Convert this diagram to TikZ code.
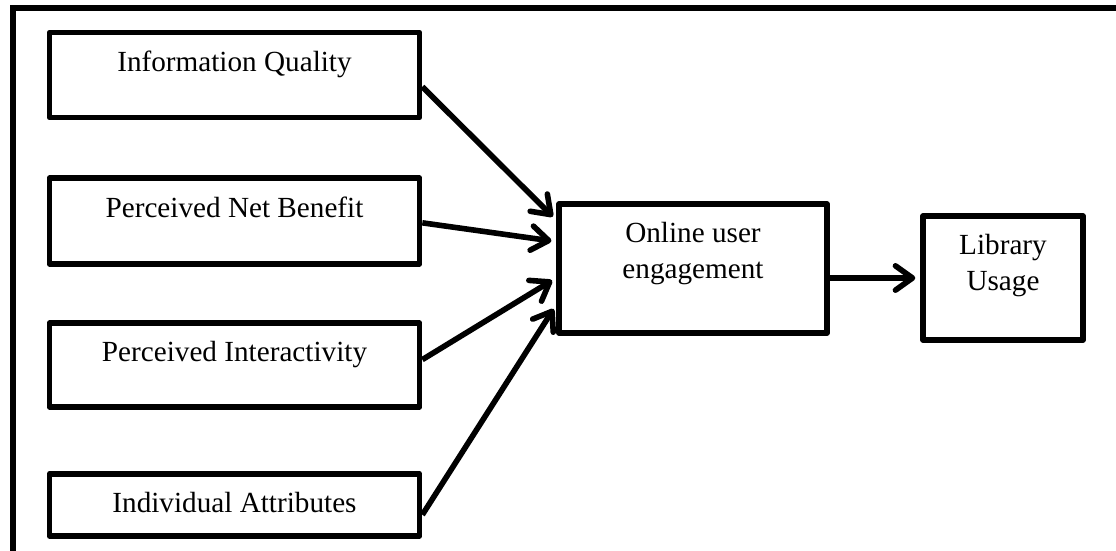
\documentclass[tikz,border=0pt]{standalone}
\usepackage{fontspec}
\setmainfont{Liberation Serif}
\usetikzlibrary{arrows.meta,calc}
\begin{document}
\begin{tikzpicture}[x=0.411pt,y=-0.411pt,
  box/.style={draw,line width=2.3pt,line join=round,inner sep=0pt},
  boxtext/.style={anchor=north,inner sep=0pt,yshift=-8.6pt,align=center,font=\fontsize{12}{14.5}\selectfont},
  arr/.style={line width=2.3pt,-{Straight Barb[length=7pt,width=10pt,round]},shorten >=2pt}]
\path[use as bounding box,clip](0,0)rectangle(1116,551);
% outer frame, cut off at right and bottom
\draw[line width=2.3pt](13,570)--(13,8)--(1130,8);
% factors
\node[box,minimum width=152.1pt,minimum height=34.9pt,label={[boxtext]north:Information Quality}](iq)at(234.5,75){};
\node[box,minimum width=152.1pt,minimum height=35.3pt,label={[boxtext]north:Perceived Net Benefit}](pnb)at(234.5,221){};
\node[box,minimum width=152.1pt,minimum height=34.5pt,label={[boxtext]north:Perceived Interactivity}](pi)at(234.5,365){};
\node[box,minimum width=152.1pt,minimum height=25.5pt,label={[boxtext]north:Individual Attributes}](ia)at(234.5,505){};
% outcome
\node[box,minimum width=110.1pt,minimum height=53pt,label={[boxtext]north:Online user\\engagement}](oue)at(693,268.5){};
\node[box,minimum width=65.8pt,minimum height=51pt,label={[boxtext]north:Library\\Usage}](lu)at(1003,278){};
\draw[arr]($(iq.north east)!0.63!(iq.south east)$)--($(oue.north west)!0.14!(oue.south west)$);
\draw[arr]($(pnb.north east)!0.52!(pnb.south east)$)--($(oue.north west)!0.3!(oue.south west)$);
\draw[arr]($(pi.north east)!0.44!(pi.south east)$)--($(oue.north west)!0.57!(oue.south west)$);
\draw[arr]($(ia.north east)!0.645!(ia.south east)$)--($(oue.north west)!0.77!(oue.south west)$);
\draw[arr](oue.east|-lu.west)--(lu.west);
\end{tikzpicture}
\end{document}
